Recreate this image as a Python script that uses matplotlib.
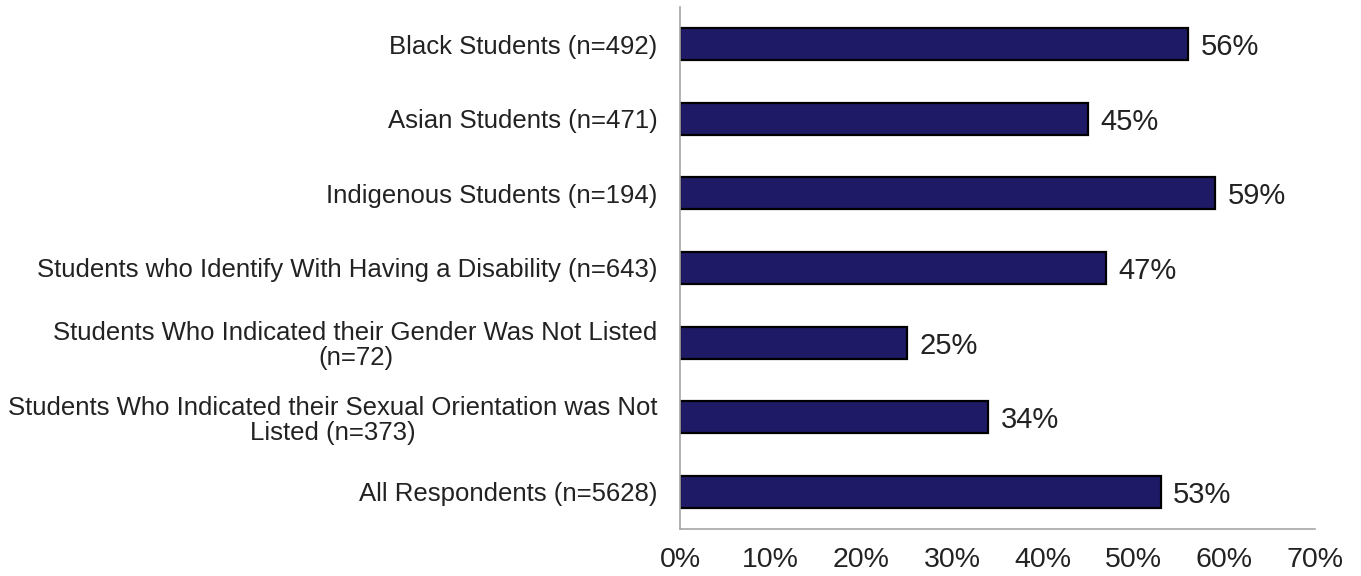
import matplotlib
matplotlib.use("Agg")
import matplotlib.pyplot as plt
from matplotlib.ticker import FuncFormatter

plt.rcParams['font.family'] = ['Liberation Sans', 'DejaVu Sans']

categories = [
    "Black Students (n=492)",
    "Asian Students (n=471)",
    "Indigenous Students (n=194)",
    "Students who Identify With Having a Disability (n=643)",
    "Students Who Indicated their Gender Was Not Listed\n(n=72)",
    "Students Who Indicated their Sexual Orientation was Not\nListed (n=373)",
    "All Respondents (n=5628)",
]
values = [56, 45, 59, 47, 25, 34, 53]
x_ticks = [0, 10, 20, 30, 40, 50, 60, 70]

fig = plt.figure(figsize=(13.61, 5.76), dpi=100)
ax = fig.add_axes([0.4996, 0.0816, 0.4664, 0.9064])

pos = list(range(len(categories)))
ax.barh(pos, values, height=0.43, color='#1F1A66', edgecolor='#000000', linewidth=1.6)

for p, v in zip(pos, values):
    ax.text(v + 1.4, p + 0.04, f"{v}%", va='center', ha='left', fontsize=21, color='#222222')

ax.set_yticks(pos)
ax.set_yticklabels(categories, fontsize=18.5, color='#222222', ha='right',
                   multialignment='center', linespacing=1.05)
ax.set_ylim(len(categories) - 0.5, -0.5)
ax.set_xlim(0, 70)
ax.set_xticks(x_ticks)
ax.xaxis.set_major_formatter(FuncFormatter(lambda v, _: f"{int(v)}%"))
ax.tick_params(axis='x', labelsize=20.5, colors='#222222', length=0, pad=13)
ax.tick_params(axis='y', length=0, pad=16)

for side in ['top', 'right']:
    ax.spines[side].set_visible(False)
for side in ['left', 'bottom']:
    ax.spines[side].set_color('#A6A6A6')
    ax.spines[side].set_linewidth(1.2)

fig.savefig("out.png", dpi=100, facecolor='white')
